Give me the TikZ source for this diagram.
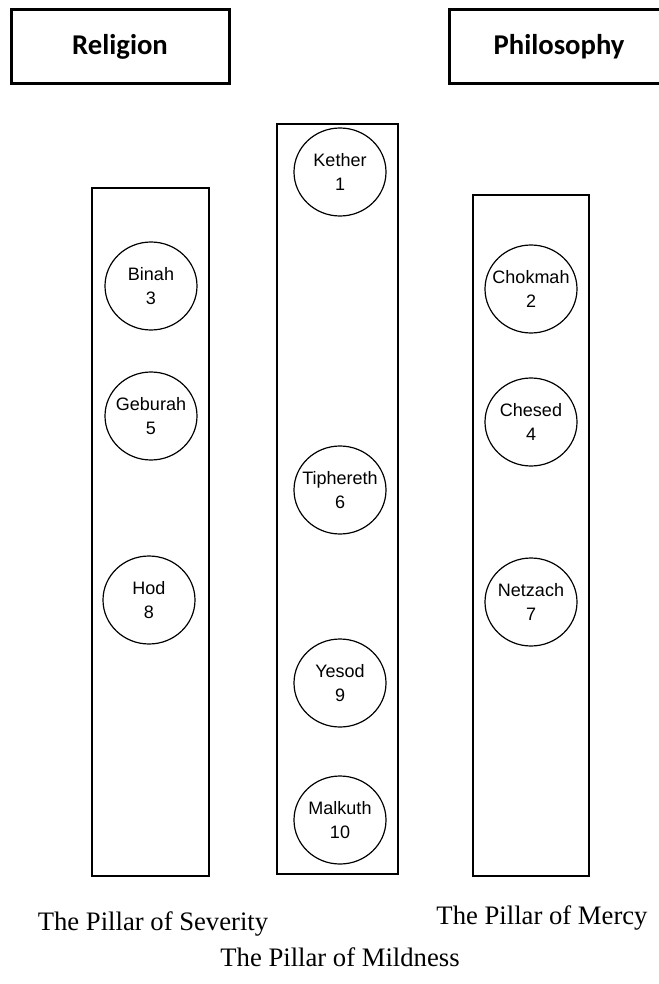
\documentclass[tikz,border=0pt]{standalone}
\usepackage{fontspec}
\setmainfont{Liberation Serif}
\newfontfamily\headfont{Carlito}
\newfontfamily\sefirafont{Liberation Sans}
\usetikzlibrary{shapes.geometric}
\newcommand\seflabel[2]{\makebox[0pt]{#1}\\\makebox[0pt]{#2}}
\begin{document}
\begin{tikzpicture}[x=0.75pt,y=-0.75pt,
  headbox/.style={draw, line width=2.25pt, minimum height=55.5pt, inner sep=0pt,
    font=\headfont\bfseries\fontsize{21.5}{26}\selectfont},
  pillar/.style={draw, line width=1.1pt, inner sep=0pt},
  sefira/.style={draw, ellipse, line width=0.9pt, minimum width=69pt, minimum height=66pt,
    inner sep=0pt, align=center, font=\sefirafont\fontsize{13.5}{18}\selectfont},
  caption/.style={anchor=base, inner sep=0pt, font=\fontsize{20}{24}\selectfont}]
\useasboundingbox (0,0) rectangle (659,984);
\begin{scope}
\clip (0,0) rectangle (659,984);
% header boxes
\node[headbox, minimum width=163.5pt] (religion) at (120,47) {Religion};
\node[headbox, minimum width=165pt] (philosophy) at (559,47) {Philosophy};
\end{scope}
% pillars
\node[pillar, minimum width=87.75pt, minimum height=516pt] (severity) at (150.5,532) {};
\node[pillar, minimum width=90.75pt, minimum height=562.5pt] (mildness) at (337.5,499) {};
\node[pillar, minimum width=87pt, minimum height=510.75pt] (mercy) at (531,535.5) {};
% sefirot
\node[sefira] (kether) at (340,172) {\seflabel{Kether}{1}};
\node[sefira] (binah) at (151,286) {\seflabel{Binah}{3}};
\node[sefira] (chokmah) at (531,289) {\seflabel{Chokmah}{2}};
\node[sefira] (geburah) at (151,416) {\seflabel{Geburah}{5}};
\node[sefira] (chesed) at (531,422) {\seflabel{Chesed}{4}};
\node[sefira] (tiphereth) at (340,490) {\seflabel{Tiphereth}{6}};
\node[sefira] (hod) at (149,600) {\seflabel{Hod}{8}};
\node[sefira] (netzach) at (531,602) {\seflabel{Netzach}{7}};
\node[sefira] (yesod) at (340,683) {\seflabel{Yesod}{9}};
\node[sefira] (malkuth) at (340,820) {\seflabel{Malkuth}{10}};
% captions
\node[caption] (capsev) at (153,930) {The Pillar of Severity};
\node[caption] (capmer) at (542,924) {The Pillar of Mercy};
\node[caption] (capmil) at (340,966) {The Pillar of Mildness};
\end{tikzpicture}
\end{document}
